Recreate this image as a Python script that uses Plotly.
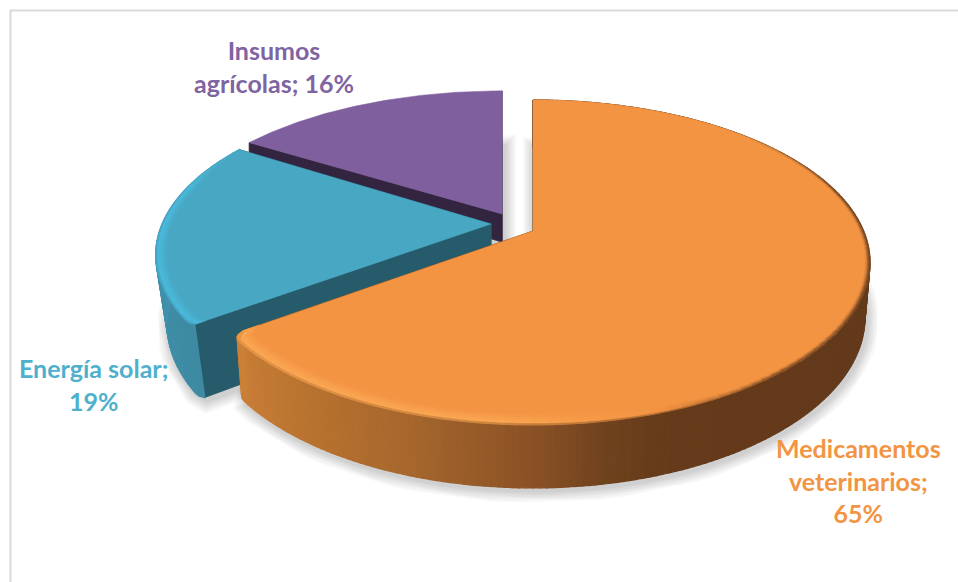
import math
import plotly.graph_objects as go

# Chart data
categories = ["Medicamentos veterinarios", "Energía solar", "Insumos agrícolas"]
shares = [65, 19, 16]
label_lines = [
    ["Medicamentos", "veterinarios;", "65%"],
    ["Energía solar;", "19%"],
    ["Insumos", "agrícolas; 16%"],
]

# Page-sized canvas
W, H = 958, 582

# Projection of the pie plane: perspective strength and radii in pixels
PERSP = 0.194
RAD_X = 330.6
RAD_Y = 156.4

# Per-slice styling, in the same order as the data
slice_styles = [
    dict(apex=(533, 231), sx=1.0, sy=1.0, depth=53, base=0.985, shadow_drop=0,
         face="#f39443", cut="#5f391b", label="#f39443", label_at=(858, 480),
         corner=(234, -3.0, 0.035),
         rim=[(0, "#5f391b"), (150, "#643a1b"), (163, "#663c1b"), (170, "#70431e"), (180, "#8a5125"),
              (197, "#a5662d"), (214, "#b8722f"), (234, "#cb8038")],
         edge=[(0, "#f39443"), (45, "#f39443"), (75, "#6b4020"), (140, "#6b4020"), (162, "#f39443"),
               (185, "#fba955"), (234, "#fba955")],
         width=[(0, 0.012), (150, 0.014), (178, 0.05), (234, 0.05)]),
    dict(apex=(491, 224), sx=0.995, sy=0.98, depth=68, base=0.966, shadow_drop=0,
         face="#48a8c4", cut="#265b6b", label="#4fb0cc", label_at=(93, 384),
         corner=(234, 2.0, 0.012),
         rim=[(234, "#3e8aa3"), (270, "#4192ad"), (302.4, "#45a0bc")],
         edge=[(234, "#4cbce0"), (285, "#4cbce0"), (302.4, "#48a8c4")],
         width=[(234, 0.035), (285, 0.03), (302.4, 0.005)]),
    dict(apex=(502, 214), sx=1.0, sy=0.94, depth=28, base=1.0, shadow_drop=30,
         face="#7f5f9d", cut="#33243f", label="#8064a2", label_at=(274, 66),
         corner=None, rim=None, edge=None, width=None),
]


def to_rgb(c):
    return tuple(int(c[i:i + 2], 16) for i in (1, 3, 5))


def mix(a, b, t):
    ra, rb = to_rgb(a), to_rgb(b)
    return "#%02x%02x%02x" % tuple(round(x + (y - x) * t) for x, y in zip(ra, rb))


def ramp_color(stops, angle):
    if angle <= stops[0][0]:
        return stops[0][1]
    for (a0, c0), (a1, c1) in zip(stops, stops[1:]):
        if angle <= a1:
            return mix(c0, c1, (angle - a0) / (a1 - a0))
    return stops[-1][1]


def ramp_value(stops, angle):
    if angle <= stops[0][0]:
        return stops[0][1]
    for (a0, v0), (a1, v1) in zip(stops, stops[1:]):
        if angle <= a1:
            return v0 + (v1 - v0) * (angle - a0) / (a1 - a0)
    return stops[-1][1]


def corner_factor(style, angle):
    """Pulls the radius in near a slice's rounded outer corner."""
    if not style["corner"]:
        return 1.0
    at, span, amount = style["corner"]
    u = (at + span - angle) / span
    if u < 0 or u > 1:
        return 1.0
    return 1 - amount * (1 - math.sqrt(max(0.0, 1 - u * u)))


def top_pt(style, angle, r=1.0):
    """Point of the slice's upper face for a pie angle (clockwise from 12 o'clock)."""
    a = math.radians(angle)
    r = r * corner_factor(style, angle)
    px, pz = r * math.sin(a), r * math.cos(a)
    w = 1 + PERSP * pz
    ax, ay = style["apex"]
    return ax + RAD_X * px / w * style["sx"], ay - RAD_Y * pz / w * style["sy"]


def base_pt(style, angle, r=1.0):
    """Matching point on the underside of the slice."""
    a = math.radians(angle)
    r = r * corner_factor(style, angle)
    px, pz = r * math.sin(a), r * math.cos(a)
    w = 1 + PERSP * pz
    ax, ay = style["apex"]
    s = style["base"]
    return ax + RAD_X * px / w * style["sx"] * s, ay - RAD_Y * pz / w * style["sy"] * s + style["depth"] / w


def arc_angles(a0, a1, step):
    n = max(2, int(round((a1 - a0) / step)))
    return [a0 + (a1 - a0) * i / n for i in range(n + 1)]


fig = go.Figure()


def add_poly(points, color, line_w=0.8, opacity=None):
    xs = [p[0] for p in points] + [points[0][0]]
    ys = [p[1] for p in points] + [points[0][1]]
    fig.add_trace(go.Scatter(
        x=xs, y=ys, mode="lines", fill="toself", fillcolor=color,
        line=dict(color=color, width=line_w),
        opacity=opacity, hoverinfo="skip", showlegend=False,
    ))


# Slice boundaries from the shares
total = sum(shares)
bounds = []
running = 0.0
for v in shares:
    start = running
    running += v / total * 360
    bounds.append((start, running))

# Soft cast shadow under every slice
for style, (a0, a1) in zip(slice_styles, bounds):
    ax, ay = style["apex"]
    outline = [(ax, ay + style["depth"])] + [base_pt(style, t) for t in arc_angles(a0, a1, 3)]
    outline = [(x + 2, y + 3 + style["shadow_drop"]) for x, y in outline]
    for spread in range(3, 27, 3):
        add_poly(outline, "#000000", line_w=spread, opacity=0.018)

# Slices from back to front
for i in (2, 1, 0):
    style = slice_styles[i]
    a0, a1 = bounds[i]
    ax, ay = style["apex"]
    apex_base = (ax, ay + style["depth"])

    # Cut faces of the wedge
    add_poly([style["apex"], top_pt(style, a0), base_pt(style, a0), apex_base], style["cut"])
    add_poly([style["apex"], top_pt(style, a1), base_pt(style, a1), apex_base], style["cut"])

    # Outer wall, shaded around the pie
    if style["rim"]:
        ang = arc_angles(a0, a1, 1)
        for t0, t1 in zip(ang, ang[1:]):
            add_poly([top_pt(style, t0), top_pt(style, t1), base_pt(style, t1), base_pt(style, t0)],
                     ramp_color(style["rim"], (t0 + t1) / 2), line_w=1.3)

    # Upper face
    pts = [style["apex"]] + [top_pt(style, t) for t in arc_angles(a0, a1, 0.5)]
    add_poly(pts, style["face"], line_w=0.5)

    # Bevel along the outer edge of the upper face
    if style["edge"]:
        layers = 6
        ang = arc_angles(a0, a1, 2)
        for t0, t1 in zip(ang, ang[1:]):
            mid = (t0 + t1) / 2
            edge_col = ramp_color(style["edge"], mid)
            rim_col = ramp_color(style["rim"], mid)
            w0 = ramp_value(style["width"], t0)
            w1 = ramp_value(style["width"], t1)
            for j in range(layers):
                f_out, f_in = j / layers, (j + 1) / layers
                col = mix(edge_col, style["face"], ((j + 0.5) / layers) ** 1.4)
                if j == 0:
                    col = mix(col, rim_col, 0.45)
                add_poly([
                    top_pt(style, t0, 1 - w0 * f_out), top_pt(style, t1, 1 - w1 * f_out),
                    top_pt(style, t1, 1 - w1 * f_in), top_pt(style, t0, 1 - w0 * f_in),
                ], col, line_w=0.6)

# Value labels
annotations = [
    dict(x=s["label_at"][0], y=s["label_at"][1], xref="x", yref="y", showarrow=False,
         text="<br>".join(lines), align="center",
         font=dict(family="Lato", size=25, color=s["label"], weight="bold"))
    for s, lines in zip(slice_styles, label_lines)
]

fig.update_layout(
    width=W, height=H,
    margin=dict(l=0, r=0, t=0, b=0),
    paper_bgcolor="#ffffff", plot_bgcolor="#ffffff",
    showlegend=False,
    xaxis=dict(range=[0, W], visible=False, fixedrange=True),
    yaxis=dict(range=[H, 0], visible=False, fixedrange=True),
    annotations=annotations,
    shapes=[dict(type="rect", xref="x", yref="y", x0=10.5, y0=10.5, x1=W + 10, y1=H + 10,
                 line=dict(color="#d9d9d9", width=2), layer="below")],
)

fig.write_html("out.html", config=dict(displayModeBar=False))
